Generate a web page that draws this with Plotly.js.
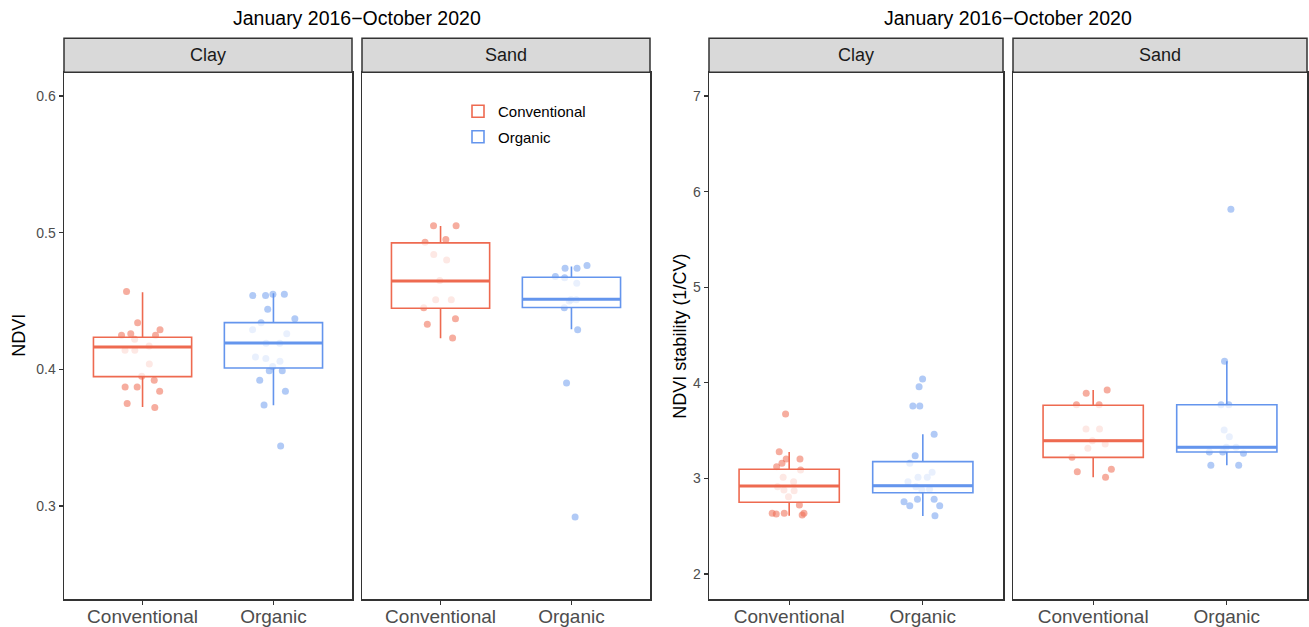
<!DOCTYPE html>
<html>
<head>
<meta charset="utf-8">
<script src="https://cdn.plot.ly/plotly-3.0.1.min.js"></script>
<style>html,body{margin:0;padding:0;background:#fff;}#chart{width:1309px;height:627px;}</style>
</head>
<body>
<div id="chart"></div>
<script>
// ---------- data ----------
const categories = ['Conventional', 'Organic'];
const facets = ['Clay', 'Sand'];
const titleText = 'January 2016\u2212October 2020';

// NDVI values (points)
const ndviClayConv = [0.457, 0.434, 0.429, 0.426, 0.425, 0.425, 0.422, 0.417, 0.414, 0.414, 0.404, 0.395, 0.392, 0.387, 0.387, 0.384, 0.375, 0.372];
const ndviClayOrg  = [0.454, 0.455, 0.455, 0.454, 0.444, 0.437, 0.434, 0.429, 0.426, 0.419, 0.419, 0.409, 0.408, 0.406, 0.402, 0.399, 0.399, 0.392, 0.384, 0.374, 0.344];
const ndviSandConv = [0.505, 0.505, 0.495, 0.493, 0.484, 0.480, 0.465, 0.451, 0.451, 0.445, 0.437, 0.433, 0.423];
const ndviSandOrg  = [0.474, 0.474, 0.476, 0.467, 0.468, 0.463, 0.451, 0.451, 0.450, 0.445, 0.429, 0.390, 0.292];

// NDVI stability values (points)
const stabClayConv = [3.674, 3.279, 3.203, 3.203, 3.158, 3.123, 3.088, 3.012, 2.966, 2.913, 2.879, 2.871, 2.809, 2.722, 2.617, 2.635, 2.635, 2.628, 2.635];
const stabClayOrg  = [4.04, 3.96, 3.757, 3.757, 3.461, 3.237, 3.158, 3.064, 3.012, 3.012, 2.966, 2.913, 2.886, 2.879, 2.781, 2.781, 2.756, 2.714, 2.714, 2.610];
const stabSandConv = [3.925, 3.890, 3.771, 3.771, 3.517, 3.517, 3.395, 3.360, 3.315, 3.220, 3.095, 3.070, 3.011];
const stabSandOrg  = [5.815, 4.225, 3.771, 3.771, 3.506, 3.436, 3.325, 3.325, 3.276, 3.276, 3.262, 3.137, 3.137];

// box statistics: [lowerWhisker, q1, median, q3, upperWhisker]
const ndviClayConvBox = [0.3725, 0.3947, 0.4164, 0.4235, 0.4564];
const ndviClayOrgBox  = [0.3737, 0.4010, 0.4193, 0.4342, 0.4557];
const ndviSandConvBox = [0.4228, 0.4447, 0.4647, 0.4925, 0.5049];
const ndviSandOrgBox  = [0.4293, 0.4452, 0.4513, 0.4674, 0.4752];
const stabClayConvBox = [2.610, 2.750, 2.920, 3.095, 3.276];
const stabClayOrgBox  = [2.607, 2.850, 2.924, 3.175, 3.461];
const stabSandConvBox = [3.011, 3.220, 3.395, 3.765, 3.925];
const stabSandOrgBox  = [3.137, 3.276, 3.325, 3.771, 4.225];

const ndviTicks = [0.3, 0.4, 0.5, 0.6];
const stabTicks = [2, 3, 4, 5, 6, 7];

// ---------- styling ----------
const FONT = 'Liberation Sans, Arial, Helvetica, sans-serif';
const lineCol = {Conventional: '#EE6A50', Organic: '#6495ED'};
const ptCol = {Conventional: 'rgba(238,106,80,0.55)', Organic: 'rgba(100,149,237,0.5)'};

const panels = [
  {xa: 'x',  ya: 'y',  conv: ndviClayConv, org: ndviClayOrg, convBox: ndviClayConvBox, orgBox: ndviClayOrgBox, legend: true},
  {xa: 'x2', ya: 'y2', conv: ndviSandConv, org: ndviSandOrg, convBox: ndviSandConvBox, orgBox: ndviSandOrgBox},
  {xa: 'x3', ya: 'y3', conv: stabClayConv, org: stabClayOrg, convBox: stabClayConvBox, orgBox: stabClayOrgBox},
  {xa: 'x4', ya: 'y4', conv: stabSandConv, org: stabSandOrg, convBox: stabSandConvBox, orgBox: stabSandOrgBox}
];

const pointTraces = [], boxTraces = [], medTraces = [];
panels.forEach(p => {
  [['Conventional', p.conv, p.convBox], ['Organic', p.org, p.orgBox]].forEach(([cat, vals, s]) => {
    pointTraces.push({
      type: 'box', xaxis: p.xa, yaxis: p.ya,
      x: vals.map(() => cat), y: vals,
      boxpoints: 'all', jitter: 0.5, pointpos: 0, width: 0.75, whiskerwidth: 0,
      fillcolor: 'rgba(0,0,0,0)', line: {color: 'rgba(0,0,0,0)', width: 0},
      marker: {color: ptCol[cat], size: 7, line: {width: 0}},
      showlegend: false, hoverinfo: 'skip'
    });
    boxTraces.push({
      type: 'box', xaxis: p.xa, yaxis: p.ya, name: cat,
      x: [cat], lowerfence: [s[0]], q1: [s[1]], median: [s[2]], q3: [s[3]], upperfence: [s[4]],
      boxpoints: false, width: 0.75, whiskerwidth: 0,
      fillcolor: 'rgba(255,255,255,0.72)', line: {color: lineCol[cat], width: 1.6},
      showlegend: !!p.legend, legendgroup: cat, hoverinfo: 'skip'
    });
    medTraces.push({
      type: 'box', xaxis: p.xa, yaxis: p.ya,
      x: [cat], lowerfence: [s[2]], q1: [s[2]], median: [s[2]], q3: [s[2]], upperfence: [s[2]],
      boxpoints: false, width: 0.75, whiskerwidth: 0,
      fillcolor: 'rgba(0,0,0,0)', line: {color: lineCol[cat], width: 3},
      showlegend: false, hoverinfo: 'skip'
    });
  });
});

const W = 1309, H = 627;
const px = v => v / W;
const py = v => 1 - v / H;
const xd = [[64, 352], [362, 650], [709, 1003], [1013, 1307]];
const panelTop = 72.3, panelBot = 599, stripTop = 38.3;
const yDomain = [py(panelBot), py(panelTop)];

function xAxis(i, anchor) {
  return {
    domain: [px(xd[i][0]), px(xd[i][1])], anchor: anchor,
    type: 'category', categoryorder: 'array', categoryarray: categories,
    range: [-0.6, 1.6], showgrid: false, zeroline: false,
    showline: true, mirror: true, linecolor: '#333333', linewidth: 1.5,
    ticks: 'outside', ticklen: 4, tickcolor: '#333333', tickwidth: 1.2,
    ticklabelstandoff: -4,
    tickfont: {family: FONT, size: 19, color: '#4D4D4D'}, fixedrange: true
  };
}
function yAxis(anchor, range, ticks, showTicks, matchTo) {
  const a = {
    domain: yDomain, anchor: anchor, range: range,
    tickvals: ticks, ticktext: ticks.map(String),
    showgrid: false, zeroline: false,
    showline: true, mirror: true, linecolor: '#333333', linewidth: 1.5,
    ticks: showTicks ? 'outside' : '', ticklen: 4, tickcolor: '#333333', tickwidth: 1.2,
    showticklabels: showTicks,
    tickfont: {family: FONT, size: 14, color: '#4D4D4D'}, fixedrange: true
  };
  if (matchTo) a.matches = matchTo;
  return a;
}

const shapes = [], annotations = [];
xd.forEach((d, i) => {
  shapes.push({type: 'rect', xref: 'paper', yref: 'paper', x0: px(d[0]), x1: px(d[1]),
    y0: py(panelTop), y1: py(stripTop), fillcolor: '#D9D9D9', line: {color: '#333333', width: 1.5}, layer: 'above'});
  annotations.push({xref: 'paper', yref: 'paper', x: px((d[0] + d[1]) / 2), y: py((panelTop + stripTop) / 2),
    text: facets[i % 2], showarrow: false, xanchor: 'center', yanchor: 'middle',
    font: {family: FONT, size: 18, color: '#1A1A1A'}});
});
annotations.push({xref: 'paper', yref: 'paper', x: px((64 + 650) / 2), y: py(18), text: titleText,
  showarrow: false, xanchor: 'center', yanchor: 'middle', font: {family: FONT, size: 19.5, color: '#000'}});
annotations.push({xref: 'paper', yref: 'paper', x: px((709 + 1307) / 2), y: py(18), text: titleText,
  showarrow: false, xanchor: 'center', yanchor: 'middle', font: {family: FONT, size: 19.5, color: '#000'}});
annotations.push({xref: 'paper', yref: 'paper', x: px(19), y: py((panelTop + panelBot) / 2), text: 'NDVI',
  textangle: -90, showarrow: false, xanchor: 'center', yanchor: 'middle', font: {family: FONT, size: 18, color: '#000'}});
annotations.push({xref: 'paper', yref: 'paper', x: px(680), y: py((panelTop + panelBot) / 2), text: 'NDVI stability (1/CV)',
  textangle: -90, showarrow: false, xanchor: 'center', yanchor: 'middle', font: {family: FONT, size: 18, color: '#000'}});

const layout = {
  width: W, height: H, margin: {l: 0, r: 0, t: 0, b: 0},
  paper_bgcolor: '#fff', plot_bgcolor: '#fff',
  boxmode: 'overlay',
  xaxis: xAxis(0, 'y'), xaxis2: xAxis(1, 'y2'), xaxis3: xAxis(2, 'y3'), xaxis4: xAxis(3, 'y4'),
  yaxis: yAxis('x', [0.2320, 0.6173], ndviTicks, true),
  yaxis2: yAxis('x2', [0.2320, 0.6173], ndviTicks, false, 'y'),
  yaxis3: yAxis('x3', [1.7385, 7.248], stabTicks, true),
  yaxis4: yAxis('x4', [1.7385, 7.248], stabTicks, false, 'y3'),
  shapes: shapes, annotations: annotations,
  showlegend: true,
  legend: {x: px(458), y: py(95), xanchor: 'left', yanchor: 'top', bgcolor: 'rgba(0,0,0,0)',
    font: {family: FONT, size: 15, color: '#000'}, tracegroupgap: 3},
  font: {family: FONT}
};

Plotly.newPlot('chart', pointTraces.concat(boxTraces, medTraces), layout, {displayModeBar: false, staticPlot: true});
</script>
</body>
</html>
